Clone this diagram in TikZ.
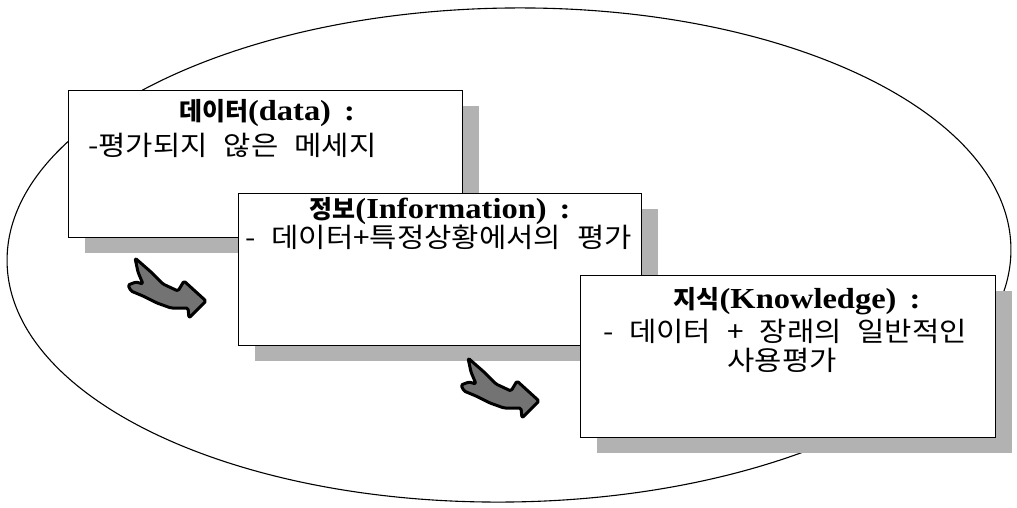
\documentclass[tikz,border=0pt]{standalone}
\usepackage{fontspec}
\usetikzlibrary{shadows}
\newfontfamily\latn{Liberation Serif}[FakeStretch=1.12]
\newfontfamily\kr{Noto Sans CJK KR}[Kerning=Off, WordSpace=2.4, FakeStretch=1.1]
\newfontfamily\krtitle{Noto Sans CJK KR}[Kerning=Off]
\newcommand{\cardtitle}[2]{{\krtitle\bfseries\fontsize{25}{32}\selectfont #1}{\latn\bfseries\fontsize{29}{34}\selectfont (#2)\hspace{0.45em}:}}
\begin{document}
\begin{tikzpicture}[x=1pt,y=-1pt,
  card/.style={draw=black, line width=1.4pt, fill=white, anchor=north west,
    drop shadow={shadow xshift=16pt, shadow yshift=-15pt, fill=black!30, opacity=1}},
  cardtext/.style={inner sep=0pt, anchor=base},
  body/.style={inner sep=0pt, font=\kr\fontsize{27}{32}\selectfont},
  brush/.style={draw=black, line width=3pt, fill=black!55, line join=round, rounded corners=1.5pt},
  pics/brush arrow/.style={code={
    \draw[brush] (0,0) -- (16,14) -- (28,26) -- (43,33) -- (49,23) -- (71,43)
      -- (54,60) -- (53,50) -- (36,50) -- (22,45) -- (8,38) -- (-4,33) -- (-7,27)
      -- (1,24) -- (8,26) -- (3,14) -- cycle;}}]
\useasboundingbox (0,0) rectangle (1017,507);

% enclosing ellipse
\draw[line width=1.1pt, rotate around={0.8:(509,255)}] (509,255) ellipse [x radius=502pt, y radius=247pt];

% the three cards
\node[card, minimum width=394pt, minimum height=147pt] (data) at (68,90) {};
\node[card, minimum width=403pt, minimum height=152pt] (info) at (238,193) {};
\node[card, minimum width=415pt, minimum height=162pt] (know) at (580,275) {};

% card texts
\node[cardtext] (datatitle) at (267,120) {\cardtitle{데이터}{data}};
\node[body, anchor=base west] (databody) at (88,155) {-평가되지 않은 메세지};

\node[cardtext] (infotitle) at (440,218) {\cardtitle{정보}{Information}};
\node[body, anchor=base west] (infobody) at (245,247) {- 데이터+특정상황에서의 평가};

\node[cardtext] (knowtitle) at (797,308) {\cardtitle{지식}{Knowledge}};
\node[body, anchor=base] (knowbody) at (785,341) {- 데이터 + 장래의 일반적인};
\node[body, anchor=base] (knowbodyb) at (782,370) {사용평가};

% brush-stroke arrows between the cards
\pic at (135,258) {brush arrow};
\pic at (468,358) {brush arrow};
\end{tikzpicture}
\end{document}
